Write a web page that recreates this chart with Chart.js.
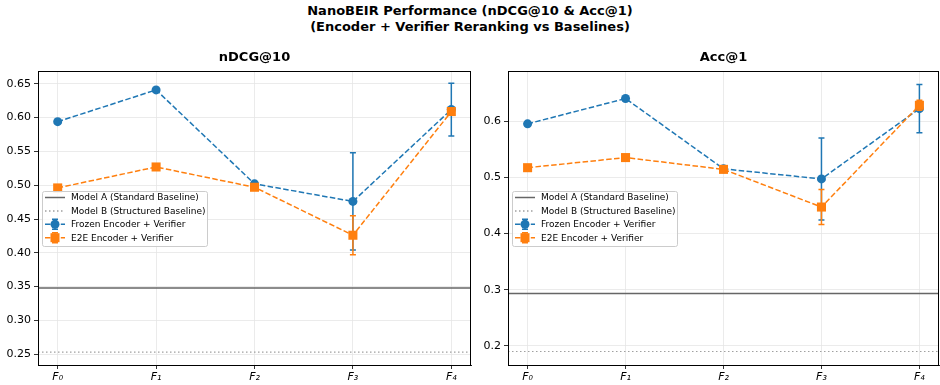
<!DOCTYPE html>
<html>
<head>
<meta charset="utf-8">
<script src="https://cdn.jsdelivr.net/npm/chart.js@4"></script>
<style>
    html, body { margin: 0; padding: 0; background: #fff; }
    body { width: 940px; height: 385px; position: relative; overflow: hidden; font-family: "DejaVu Sans", sans-serif; }
    #mainTitle { position: absolute; left: 0; top: 3px; width: 940px; text-align: center; font-weight: bold; font-size: 13px; line-height: 16px; color: #000; }
    #ndcgChart { position: absolute; left: 0; top: 0; }
    #accChart { position: absolute; left: 470px; top: 0; }
</style>
</head>
<body>
<div id="mainTitle">NanoBEIR Performance (nDCG@10 &amp; Acc@1)<br>(Encoder + Verifier Reranking vs Baselines)</div>
<canvas id="ndcgChart" width="472" height="385"></canvas>
<canvas id="accChart" width="470" height="385"></canvas>
<script>
const xLabels = ['F₀', 'F₁', 'F₂', 'F₃', 'F₄'];
const xTicks = [0, 1, 2, 3, 4];

// nDCG@10
const ndcgFrozen = [0.594, 0.641, 0.502, 0.476, 0.612];
const ndcgFrozenErr = [0, 0, 0, 0.072, 0.039];
const ndcgE2E = [0.496, 0.527, 0.497, 0.426, 0.609];
const ndcgE2EErr = [0, 0, 0, 0.029, 0.004];
const ndcgModelA = 0.348;
const ndcgModelB = 0.253;
const ndcgTicks = [0.25, 0.30, 0.35, 0.40, 0.45, 0.50, 0.55, 0.60, 0.65];

// Acc@1
const accFrozen = [0.595, 0.640, 0.515, 0.497, 0.622];
const accFrozenErr = [0, 0, 0, 0.073, 0.043];
const accE2E = [0.517, 0.535, 0.514, 0.447, 0.628];
const accE2EErr = [0, 0, 0, 0.031, 0.009];
const accModelA = 0.293;
const accModelB = 0.190;
const accTicks = [0.2, 0.3, 0.4, 0.5, 0.6];

const BLUE = '#1f77b4';
const ORANGE = '#ff7f0e';
const GRAY_A = '#666666';
const GRAY_B = '#a0a0a0';
const FONT = "'DejaVu Sans', sans-serif";

// error bars, drawn just before each series so markers sit on top
const errorBarPlugin = {
    id: 'errorBars',
    beforeDatasetDraw(chart, args) {
        const ds = chart.data.datasets[args.index];
        if (!ds.errors) return;
        const ctx = chart.ctx;
        const xs = chart.scales.x, ys = chart.scales.y;
        ctx.save();
        ctx.strokeStyle = ds.borderColor;
        ctx.lineWidth = 1.5;
        ctx.setLineDash([]);
        ds.data.forEach((p, i) => {
            const e = ds.errors[i];
            if (!e) return;
            const x = xs.getPixelForValue(p.x);
            const y1 = ys.getPixelForValue(p.y + e);
            const y2 = ys.getPixelForValue(p.y - e);
            ctx.beginPath();
            ctx.moveTo(x, y1); ctx.lineTo(x, y2);
            ctx.moveTo(x - 3, y1); ctx.lineTo(x + 3, y1);
            ctx.moveTo(x - 3, y2); ctx.lineTo(x + 3, y2);
            ctx.stroke();
        });
        ctx.restore();
    }
};

// frame, panel title and in-plot legend
const framePlugin = {
    id: 'frame',
    afterDraw(chart, args, opts) {
        const ctx = chart.ctx;
        const a = chart.chartArea;
        ctx.save();
        ctx.strokeStyle = '#000';
        ctx.lineWidth = 1;
        ctx.strokeRect(Math.round(a.left) + 0.5, Math.round(a.top) + 0.5,
            Math.round(a.right - a.left) - 1, Math.round(a.bottom - a.top));

        ctx.fillStyle = '#000';
        ctx.font = 'bold 13px ' + FONT;
        ctx.textAlign = 'center';
        ctx.textBaseline = 'middle';
        ctx.fillText(opts.title, (a.left + a.right) / 2, 58);

        // legend box
        const bx = a.left + 4, by = a.top + 120;
        ctx.fillStyle = 'rgba(255,255,255,0.8)';
        ctx.strokeStyle = '#cccccc';
        ctx.lineWidth = 1;
        ctx.beginPath();
        ctx.roundRect(bx + 0.5, by + 0.5, 165, 55, 2);
        ctx.fill();
        ctx.stroke();

        const rows = chart.data.datasets.slice().sort((p, q) => p.legendRank - q.legendRank);
        ctx.font = '9px ' + FONT;
        ctx.textAlign = 'left';
        rows.forEach((ds, i) => {
            const y = by + 6.5 + i * 13.4;
            const x0 = bx + 3, x1 = bx + 23, xm = (x0 + x1) / 2;
            ctx.strokeStyle = ds.borderColor;
            ctx.lineWidth = 1.5;
            ctx.setLineDash(ds.borderDash || []);
            ctx.beginPath();
            ctx.moveTo(x0, y); ctx.lineTo(x1, y);
            ctx.stroke();
            ctx.setLineDash([]);
            if (ds.errors) {
                ctx.beginPath();
                ctx.moveTo(xm, y - 5); ctx.lineTo(xm, y + 5);
                ctx.moveTo(xm - 3, y - 5); ctx.lineTo(xm + 3, y - 5);
                ctx.moveTo(xm - 3, y + 5); ctx.lineTo(xm + 3, y + 5);
                ctx.stroke();
                ctx.fillStyle = ds.borderColor;
                if (ds.pointStyle === 'rect') {
                    ctx.fillRect(xm - 4.5, y - 4.5, 9, 9);
                } else {
                    ctx.beginPath();
                    ctx.arc(xm, y, 4.5, 0, Math.PI * 2);
                    ctx.fill();
                }
            }
            ctx.fillStyle = '#000';
            ctx.fillText(ds.label, bx + 29, y + 0.5);
        });
        ctx.restore();
    }
};

function points(values) {
    return values.map((v, i) => ({ x: xTicks[i], y: v }));
}

function flat(value) {
    return [{ x: -0.2, y: value }, { x: 4.2, y: value }];
}

function buildPanel(canvasId, panelTitle, s) {
    const ctx = document.getElementById(canvasId).getContext('2d');
    return new Chart(ctx, {
        type: 'line',
        data: {
            datasets: [
                {
                    label: 'E2E Encoder + Verifier',
                    data: points(s.e2e),
                    errors: s.e2eErr,
                    borderColor: ORANGE,
                    backgroundColor: ORANGE,
                    borderWidth: 1.5,
                    borderDash: [5.5, 2.4],
                    pointStyle: 'rect',
                    pointRadius: 6.4,
                    pointBorderWidth: 0,
                    tension: 0,
                    order: 0,
                    legendRank: 3
                },
                {
                    label: 'Frozen Encoder + Verifier',
                    data: points(s.frozen),
                    errors: s.frozenErr,
                    borderColor: BLUE,
                    backgroundColor: BLUE,
                    borderWidth: 1.5,
                    borderDash: [5.5, 2.4],
                    pointStyle: 'circle',
                    pointRadius: 4.5,
                    pointBorderWidth: 0,
                    tension: 0,
                    order: 1,
                    legendRank: 2
                },
                {
                    label: 'Model A (Standard Baseline)',
                    data: flat(s.modelA),
                    borderColor: GRAY_A,
                    borderWidth: 1.5,
                    pointRadius: 0,
                    order: 2,
                    legendRank: 0
                },
                {
                    label: 'Model B (Structured Baseline)',
                    data: flat(s.modelB),
                    borderColor: GRAY_B,
                    borderWidth: 1.2,
                    borderDash: [1.5, 2.5],
                    pointRadius: 0,
                    order: 3,
                    legendRank: 1
                }
            ]
        },
        options: {
            responsive: false,
            animation: false,
            layout: { autoPadding: false, padding: { top: 71, left: 0, right: 1, bottom: 0 } },
            plugins: {
                legend: { display: false },
                tooltip: { enabled: false },
                frame: { title: panelTitle }
            },
            scales: {
                x: {
                    type: 'linear',
                    min: -0.2,
                    max: 4.2,
                    afterBuildTicks: (scale) => { scale.ticks = xTicks.map(v => ({ value: v })); },
                    afterFit: (scale) => {
                        scale.height = 20;
                        scale.paddingLeft = 0;
                        scale.paddingRight = 0;
                    },
                    ticks: {
                        callback: (v) => xLabels[v],
                        color: '#000',
                        padding: 2,
                        maxRotation: 0,
                        font: { family: FONT, size: 11, style: 'italic' }
                    },
                    grid: { color: '#e6e6e6', lineWidth: 0.8, tickColor: '#000', tickLength: 4 },
                    border: { display: true, color: '#000' }
                },
                y: {
                    type: 'linear',
                    min: s.yMin,
                    max: s.yMax,
                    afterBuildTicks: (scale) => { scale.ticks = s.ticks.map(v => ({ value: v })); },
                    afterFit: (scale) => {
                        scale.width = 38;
                        scale.paddingTop = 0;
                        scale.paddingBottom = 0;
                    },
                    ticks: {
                        callback: (v) => v.toFixed(s.decimals),
                        color: '#000',
                        padding: 3,
                        font: { family: FONT, size: 11 }
                    },
                    grid: { color: '#e6e6e6', lineWidth: 0.8, tickColor: '#000', tickLength: 4 },
                    border: { display: true, color: '#000' }
                }
            }
        },
        plugins: [errorBarPlugin, framePlugin]
    });
}

buildPanel('ndcgChart', 'nDCG@10', {
    frozen: ndcgFrozen, frozenErr: ndcgFrozenErr,
    e2e: ndcgE2E, e2eErr: ndcgE2EErr,
    modelA: ndcgModelA, modelB: ndcgModelB,
    ticks: ndcgTicks, decimals: 2, yMin: 0.234, yMax: 0.669
});

buildPanel('accChart', 'Acc@1', {
    frozen: accFrozen, frozenErr: accFrozenErr,
    e2e: accE2E, e2eErr: accE2EErr,
    modelA: accModelA, modelB: accModelB,
    ticks: accTicks, decimals: 1, yMin: 0.166, yMax: 0.689
});
</script>
</body>
</html>
